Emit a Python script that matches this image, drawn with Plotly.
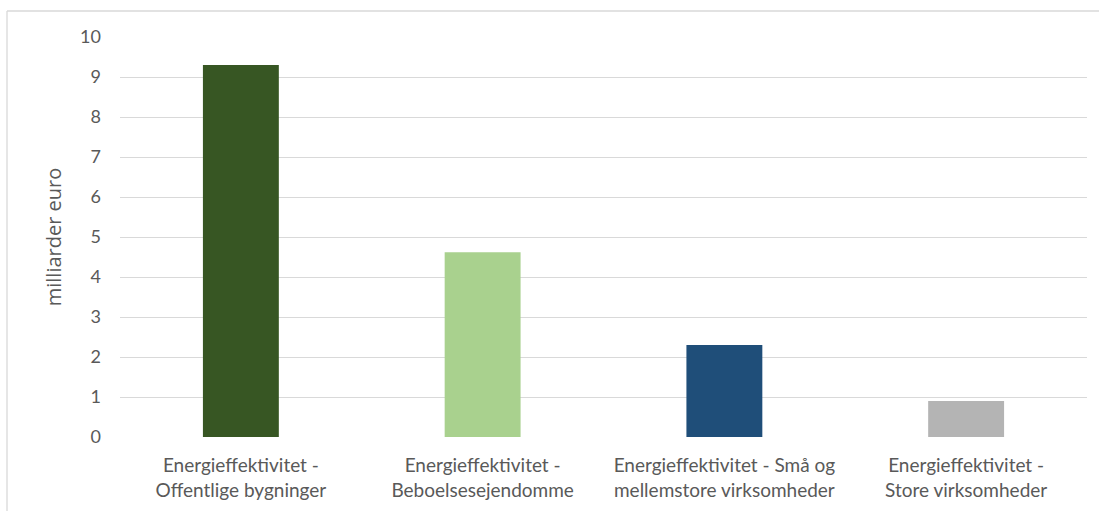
import plotly.graph_objects as go

categories = [
    "Energieffektivitet -<br>Offentlige bygninger",
    "Energieffektivitet -<br>Beboelsesejendomme",
    "Energieffektivitet - Små og<br>mellemstore virksomheder",
    "Energieffektivitet -<br>Store virksomheder",
]
values = [9.3, 4.62, 2.3, 0.9]
colors = ["#375623", "#A9D18E", "#1F4E79", "#B4B4B4"]
y_ticks = list(range(0, 11))
y_title = "milliarder euro"

W, H = 1099, 511
L, R, T, B = 120, 12, 37, 74
pw, ph = W - L - R, H - T - B

fig = go.Figure(go.Bar(x=categories, y=values, marker=dict(color=colors, line=dict(width=0))))

font = "Lato, Calibri, sans-serif"
fig.update_layout(
    width=W, height=H,
    margin=dict(l=L, r=R, t=T, b=B, pad=0, autoexpand=False),
    paper_bgcolor="white", plot_bgcolor="white",
    bargap=0.686,
    showlegend=False,
    font=dict(family=font, size=18, color="#595959"),
    xaxis=dict(showgrid=False, zeroline=False, showline=False, ticks="", automargin=False,
               tickfont=dict(size=19, color="#595959"), ticklabelstandoff=15),
    yaxis=dict(range=[0, 10], tickvals=y_ticks, showgrid=True, gridcolor="#D9D9D9", gridwidth=1.3,
               zeroline=False, showline=False, ticks="", automargin=False,
               tickfont=dict(size=18, color="#595959"), ticklabelstandoff=18,
               title=dict(text=y_title, font=dict(family="Open Sans, sans-serif", size=20, color="#595959"), standoff=13)),
    shapes=[
        dict(type="line", xref="paper", yref="paper",
             x0=(7 - L) / pw, x1=(W + 10 - L) / pw, y0=(H - B - 11) / ph, y1=(H - B - 11) / ph,
             line=dict(color="#D9D9D9", width=1.3)),
        dict(type="line", xref="paper", yref="paper",
             x0=(7 - L) / pw, x1=(7 - L) / pw, y0=(H - B - 11) / ph, y1=(H - B - H - 10) / ph,
             line=dict(color="#D9D9D9", width=1.3)),
    ],
)
fig.write_html("out.html")
